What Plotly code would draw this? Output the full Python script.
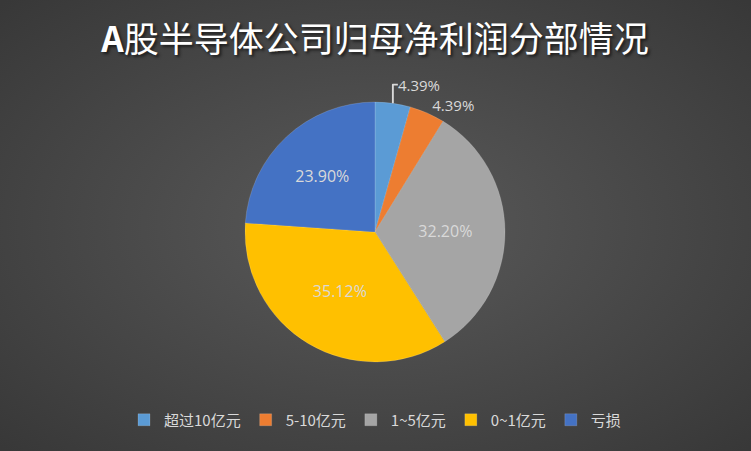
import plotly.graph_objects as go

# profit bands and share of companies (%)
labels = ['超过10亿元', '5-10亿元', '1~5亿元', '0~1亿元', '亏损']
shares = [4.39, 4.39, 32.20, 35.12, 23.90]
colors = ['#5B9BD5', '#ED7D31', '#A5A5A5', '#FFC000', '#4472C4']
label_pos = ['outside', 'outside', 'inside', 'inside', 'inside']

W, H = 751, 451


def px_x(x):
    return x / W


def px_y(y):
    return 1 - y / H


bg_svg = (
    "data:image/svg+xml;utf8,"
    "<svg xmlns='http://www.w3.org/2000/svg' width='751' height='451'>"
    "<defs><radialGradient id='g' cx='50%' cy='50%' r='70%'>"
    "<stop offset='0%' stop-color='%235a5a5a'/>"
    "<stop offset='100%' stop-color='%23383838'/>"
    "</radialGradient></defs>"
    "<rect width='751' height='451' fill='url(%23g)'/></svg>"
)

fig = go.Figure()

fig.add_trace(go.Pie(
    labels=labels,
    values=shares,
    sort=False,
    direction='clockwise',
    rotation=0,
    marker=dict(colors=colors, line=dict(color='rgba(255,255,255,0.25)', width=0.6)),
    texttemplate='%{value:.2f}%',
    textposition=label_pos,
    insidetextorientation='horizontal',
    textfont=dict(family='Open Sans, Noto Sans', size=16, color='#D9D9D9'),
    outsidetextfont=dict(family='Open Sans, Noto Sans', size=15, color='#D9D9D9'),
    domain=dict(x=[px_x(245), px_x(505)], y=[px_y(362), px_y(102)]),
    hoverinfo='label+percent',
))

fig.update_layout(
    width=W,
    height=H,
    margin=dict(l=0, r=0, t=0, b=0),
    paper_bgcolor='#4a4a4a',
    title=dict(
        text='<b>A</b>股半导体公司归母净利润分部情况',
        x=px_x(375), xanchor='center',
        y=px_y(40), yanchor='middle',
        font=dict(family='Noto Sans CJK SC', size=35, color='#FFFFFF',
                  weight=400, shadow='2px 2px 3px #1a1a1a'),
    ),
    legend=dict(
        orientation='h',
        x=px_x(375), xanchor='center',
        y=px_y(420), yanchor='middle',
        bgcolor='rgba(0,0,0,0)',
        font=dict(family='Noto Sans CJK SC', size=15, color='#D9D9D9'),
        itemwidth=30,
        traceorder='normal',
    ),
    images=[dict(source=bg_svg, xref='paper', yref='paper', x=0, y=1,
                 sizex=1, sizey=1, sizing='stretch', layer='below')],
)

# drop the default page margin so the chart sits at the window's corner
fig.write_html('out.html', config={'displayModeBar': False},
               post_script="document.body.style.margin='0';")
